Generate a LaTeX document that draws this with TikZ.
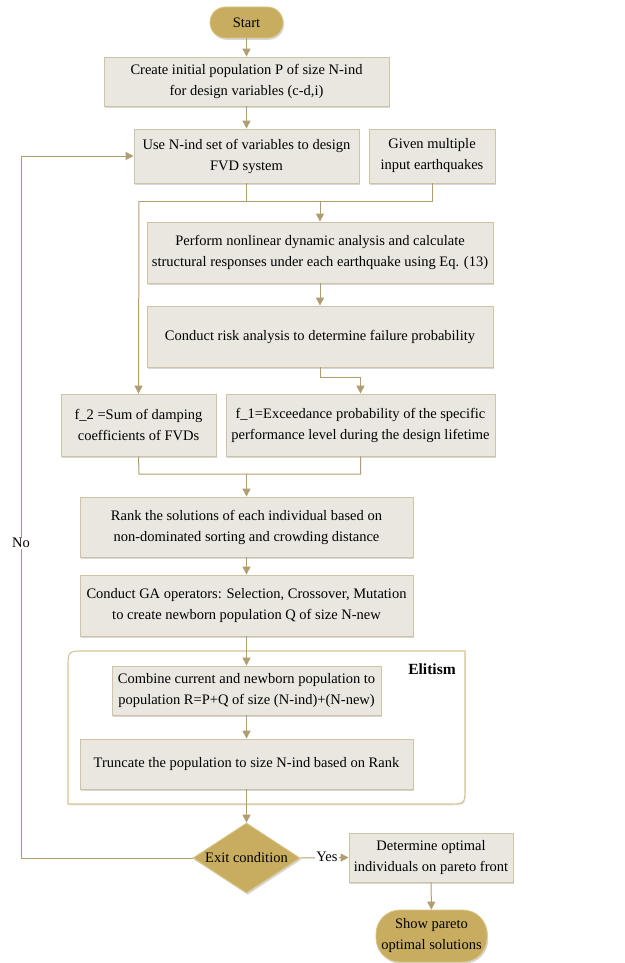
\documentclass[tikz,border=0pt]{standalone}
\usepackage{fontspec}
\setmainfont{Liberation Serif}
\usetikzlibrary{arrows.meta,shapes.geometric,shadows}
\definecolor{boxfill}{HTML}{EAE7E0}
\definecolor{boxdraw}{HTML}{CFC3A6}
\definecolor{arrowc}{HTML}{B29D70}
\definecolor{gold}{HTML}{C8AD60}
\definecolor{golddraw}{HTML}{D8C585}
\definecolor{framec}{HTML}{D6C496}
\tikzset{
  myshadow/.style={drop shadow={shadow xshift=1.2pt,shadow yshift=-1.8pt,fill=black!45,opacity=.35}},
  txt/.style={font=\fontsize{14.5}{21}\selectfont},
  procbox/.style={rectangle,draw=boxdraw,line width=0.8pt,fill=boxfill,myshadow,align=center,inner sep=1pt,txt},
  termbox/.style={rectangle,draw=golddraw,line width=0.8pt,fill=gold,myshadow,align=center,inner sep=1pt,txt},
  decbox/.style={diamond,aspect=1.5,draw=golddraw,line width=0.8pt,fill=gold,myshadow,inner sep=0pt,txt},
  conn/.style={draw=arrowc,line width=1pt},
  arr/.style={conn,-{Triangle[width=8pt,length=8pt]}},
  lbl/.style={fill=white,inner sep=1pt,txt}
}
\begin{document}
\begin{tikzpicture}[x=1pt,y=-1pt]
\useasboundingbox (0,0) rectangle (624,963);
% Elitism frame
\draw[draw=framec,line width=1.1pt,fill=white,drop shadow={shadow xshift=1pt,shadow yshift=-1.5pt,fill=black!30,opacity=.3}] (68,804) -- (68,668) .. controls (68,651) .. (85,651) -- (465,651) -- (465,787) .. controls (465,804) .. (448,804) -- cycle;
\node[font=\fontsize{15.5}{18}\selectfont\bfseries] (elit) at (432,669) {Elitism};

\node[termbox,minimum width=73pt,minimum height=31pt,rounded corners=15.5pt] (start) at (246.5,22.5) {Start};
\node[procbox,minimum width=285pt,minimum height=49pt] (init) at (246.5,81.5) {Create initial population P of size N-ind\\for design variables (c-d,i)};
\node[procbox,minimum width=225pt,minimum height=54pt] (use) at (246.5,156) {Use N-ind set of variables to design\\FVD system};
\node[procbox,minimum width=126pt,minimum height=54pt] (given) at (432,156) {Given multiple\\input earthquakes};
\node[procbox,minimum width=346pt,minimum height=61pt] (perf) at (320,252.5) {Perform nonlinear dynamic analysis and calculate\\structural responses under each earthquake using Eq. (13)};
\node[procbox,minimum width=346pt,minimum height=61pt] (risk) at (320,336.5) {Conduct risk analysis to determine failure probability};
\node[procbox,minimum width=155pt,minimum height=62pt] (f2) at (138.5,425) {f\_2 =Sum of damping\\coefficients of FVDs};
\node[procbox,minimum width=269pt,minimum height=62pt] (f1) at (360.5,425) {f\_1=Exceedance probability of the specific\\performance level during the design lifetime};
\node[procbox,minimum width=333pt,minimum height=60pt] (rank) at (246.5,527) {Rank the solutions of each individual based on\\non-dominated sorting and crowding distance};
\node[procbox,minimum width=333pt,minimum height=61pt] (ga) at (246.5,605.5) {Conduct GA operators: Selection, Crossover, Mutation\\to create newborn population Q of size N-new};
\node[procbox,minimum width=269pt,minimum height=49pt] (comb) at (246.5,690.5) {Combine current and newborn population to\\population R=P+Q of size (N-ind)+(N-new)};
\node[procbox,minimum width=333pt,minimum height=50pt] (trunc) at (246.5,764) {Truncate the population to size N-ind based on Rank};
\node[decbox,minimum width=107pt,minimum height=70pt] (exit) at (246.5,858) {Exit condition};
\node[procbox,minimum width=164pt,minimum height=49pt] (det) at (431,857.5) {Determine optimal\\individuals on pareto front};
\node[termbox,minimum width=111pt,minimum height=52pt,rounded corners=24pt] (show) at (431.5,936) {Show pareto\\optimal solutions};

\coordinate (jl) at (139,201);
\coordinate (jb) at (139,474);
\coordinate (jloop) at (21,858);

\draw[arr] (start) -- (init);
\draw[arr] (init) -- (use);
\draw[conn] (use.south) -- (use.south |- jl);
\draw[conn] (given.south) |- (jl);
\draw[arr] (jl) -- (f2.north);
\draw[arr] (perf.north |- jl) -- (perf.north);
\draw[arr] (perf) -- (risk);
\draw[arr] (risk.south) -- ++(0,10) -| (f1.north);
\draw[conn] (f2.south) -- (jb) -- (f1.south |- jb) -- (f1.south);
\draw[arr] (rank.north |- jb) -- (rank.north);
\draw[arr] (rank) -- (ga);
\draw[arr] (ga) -- (comb);
\draw[arr] (comb) -- (trunc);
\draw[arr] (trunc) -- (exit);
\draw[arr] (exit.west) -- (jloop) |- (use.west);
\draw[arr] (exit.east) -- (det.west);
\draw[arr] (det) -- (show);
\node[lbl] (no) at (21,543) {No};
\node[lbl] (yes) at (327,857) {Yes};
\end{tikzpicture}
\end{document}
